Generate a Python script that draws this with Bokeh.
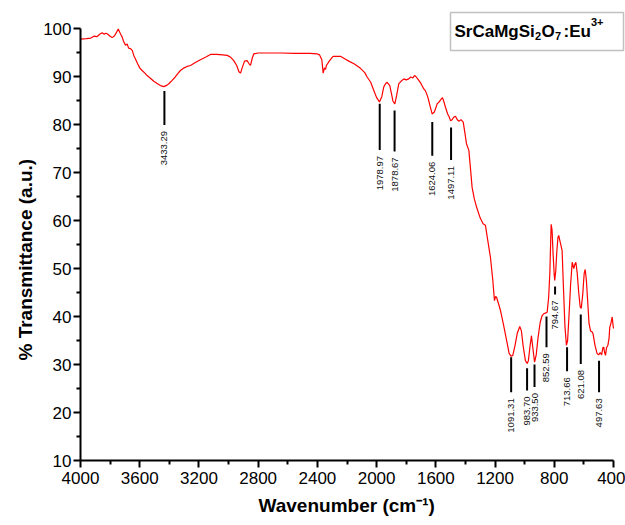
import math
from bokeh.plotting import figure
from bokeh.models import Range1d, Label, FixedTicker, BoxAnnotation, ColumnDataSource, Title
from bokeh.embed import file_html
from bokeh.resources import INLINE
from bokeh.core.properties import value

# ---------------- data ----------------
wavenumber = [
    4000, 3960, 3930, 3910, 3890, 3870, 3854, 3840, 3830, 3820, 3800, 3786, 3770, 3755, 3745,
    3735, 3725, 3718, 3710, 3696, 3685, 3675, 3662, 3650, 3640, 3625, 3613, 3600, 3584, 3565,
    3550, 3530, 3505, 3480, 3460, 3437, 3415, 3400, 3381, 3360, 3340, 3325, 3300, 3280, 3257,
    3230, 3190, 3150, 3122, 3080, 3040, 3009, 2985, 2965, 2945, 2930, 2919, 2908, 2892, 2875,
    2860, 2852, 2840, 2830, 2800, 2740, 2649, 2550, 2450, 2400, 2385, 2370, 2361, 2352, 2345,
    2339, 2320, 2300, 2291, 2244, 2210, 2188, 2150, 2109, 2080, 2064, 2040, 2019, 2000, 1981,
    1965, 1952, 1940, 1929, 1911, 1900, 1890, 1877, 1865, 1850, 1835, 1816, 1800, 1783, 1770,
    1755, 1744, 1735, 1725, 1715, 1700, 1681, 1670, 1654, 1640, 1625, 1610, 1591, 1575, 1564,
    1555, 1545, 1535, 1520, 1510, 1501, 1490, 1480, 1467, 1455, 1445, 1430, 1415, 1405, 1393,
    1377, 1365, 1355, 1340, 1325, 1300, 1281, 1265, 1249, 1231, 1215, 1204, 1196, 1190, 1175,
    1163, 1141, 1118, 1105, 1091, 1080, 1065, 1050, 1033, 1022, 1010, 995, 983, 975, 965,
    954, 945, 933, 922, 910, 895, 882, 870, 860, 848, 838, 830, 824, 821, 815,
    808, 800, 797, 790, 783, 775, 770, 760, 747, 738, 728, 718, 710, 700, 690,
    679, 668, 660, 654, 645, 635, 625, 618, 608, 598, 591, 583, 575, 565, 555,
    545, 538, 525, 511, 500, 490, 480, 472, 466, 460, 454, 447, 438, 430, 425,
    418, 409, 403, 400,
]
transmittance = [
    97.8, 97.9, 98.0, 98.4, 98.3, 98.8, 99.1, 98.8, 99.0, 98.9, 98.4, 98.1, 98.5, 99.3, 99.9,
    99.2, 98.6, 98.2, 97.4, 96.5, 96.8, 95.9, 95.8, 95.4, 94.4, 93.4, 92.6, 91.8, 91.25, 90.7,
    90.2, 89.7, 89.0, 88.5, 88.1, 87.9, 88.2, 88.6, 89.2, 89.9, 90.7, 91.25, 91.8, 92.1, 92.3,
    92.8, 93.5, 94.1, 94.6, 94.6, 94.5, 94.4, 94.0, 93.3, 92.3, 91.0, 90.7, 91.8, 93.2, 93.3,
    92.6, 92.3, 93.8, 94.7, 94.9, 94.9, 94.9, 94.8, 94.8, 94.7, 94.5, 93.5, 90.7, 91.8, 91.5,
    92.3, 93.2, 94.0, 94.2, 94.2, 93.6, 93.2, 92.6, 91.7, 90.8, 89.9, 88.8, 87.1, 85.6, 84.7,
    85.8, 87.8, 88.5, 88.8, 88.1, 86.5, 84.9, 84.3, 86.0, 88.5, 89.0, 89.5, 89.3, 89.5, 89.9,
    89.7, 90.2, 90.0, 89.6, 89.2, 88.5, 87.4, 87.0, 85.7, 84.0, 82.2, 82.6, 84.3, 84.8, 85.3,
    85.6, 84.7, 83.6, 82.2, 81.6, 80.8, 81.0, 81.5, 81.7, 81.0, 80.7, 81.0, 80.5, 78.5, 76.0,
    74.6, 70.5, 66.9, 64.5, 62.8, 60.5, 59.3, 59.0, 55.8, 52.3, 47.5, 43.3, 44.2, 44.0, 42.5,
    41.2, 38.0, 34.4, 32.3, 31.7, 31.9, 34.0, 36.5, 37.9, 37.0, 33.8, 30.8, 30.2, 30.8, 33.5,
    36.0, 33.5, 30.5, 32.0, 35.5, 38.8, 40.2, 40.6, 40.7, 40.9, 44.0, 49.0, 56.0, 59.2, 58.0,
    53.0, 48.5, 47.5, 49.5, 53.5, 56.5, 56.9, 55.5, 53.7, 46.0, 38.0, 34.0, 35.0, 40.5, 46.5,
    51.3, 50.0, 51.0, 51.3, 49.0, 45.0, 42.0, 41.7, 44.5, 49.0, 49.8, 47.5, 43.5, 38.5, 37.0,
    36.8, 36.4, 34.0, 32.3, 32.0, 32.5, 32.0, 33.5, 33.6, 32.5, 31.9, 33.5, 34.0, 35.5, 37.8,
    38.5, 39.9, 38.2, 37.5,
]

peak_labels = ["3433.29", "1978.97", "1878.67", "1624.06", "1497.11", "1091.31", "983.70",
               "933.50", "852.59", "794.67", "713.66", "621.08", "497.63"]
peak_wavenumbers = [3433.29, 1978.97, 1878.67, 1624.06, 1497.11, 1091.31, 983.70,
                    933.50, 852.59, 794.67, 713.66, 621.08, 497.63]
peak_line_top = [87.0, 84.3, 82.9, 80.5, 79.4, 31.5, 29.2, 30.0, 40.0, 46.25, 33.6, 40.4, 30.8]
peak_line_bottom = [79.9, 74.7, 74.4, 73.5, 72.6, 24.2, 24.6, 25.3, 33.6, 44.6, 28.6, 30.1, 24.2]

x_ticks = [4000, 3600, 3200, 2800, 2400, 2000, 1600, 1200, 800, 400]
y_ticks = [10, 20, 30, 40, 50, 60, 70, 80, 90, 100]

x_title = "Wavenumber (cm\u207b\u00b9)"
y_title = "% Transmittance (a.u.)"

# ---------------- layout helpers (pixel -> data) ----------------
W, H = 625, 525
LEFT, BOTTOM = 80, 65
X0, X1 = 4000, 400          # axis extent
PX_X0, PX_X1 = 80, 613      # pixel positions of 4000 / 400
PX_Y100, PX_Y10 = 28, 460   # pixel positions of 100 / 10
ux = (X0 - X1) / (PX_X1 - PX_X0)   # data per px (x)
uy = 90.0 / (PX_Y10 - PX_Y100)      # data per px (y)


def px_x(px):
    return X0 - (px - PX_X0) * ux


def px_y(py):
    return 100 - (py - PX_Y100) * uy


FONT = "Liberation Sans"

p = figure(width=W, height=H, output_backend="svg", toolbar_location=None,
           x_range=Range1d(X0, px_x(W)), y_range=Range1d(10, px_y(0)),
           min_border_left=LEFT, min_border_right=0, min_border_top=0,
           min_border_bottom=BOTTOM)
p.outline_line_color = None
p.grid.visible = False
p.background_fill_color = "white"
p.border_fill_color = "white"

for ax, ticks, standoff in ((p.xaxis, x_ticks, 4), (p.yaxis, y_ticks, 2)):
    minors = [(a + b) / 2 for a, b in zip(ticks[:-1], ticks[1:])]
    ax.ticker = FixedTicker(ticks=ticks, minor_ticks=minors)
    ax.bounds = (min(ticks), max(ticks))
    ax.axis_line_width = 2
    ax.axis_line_color = "black"
    ax.major_tick_line_width = 2
    ax.minor_tick_line_width = 2
    ax.major_tick_line_color = "black"
    ax.minor_tick_line_color = "black"
    ax.major_tick_out = 7
    ax.major_tick_in = 0
    ax.minor_tick_out = 4
    ax.minor_tick_in = 0
    ax.major_label_text_font = FONT
    ax.major_label_text_font_size = "17px"
    ax.major_label_text_color = "black"
    ax.major_label_standoff = standoff

# axis titles (side-panel titles, offset along the axis from the frame's start)
p.add_layout(Title(text=y_title, align="left", offset=100, standoff=10,
                   text_font=FONT, text_font_size="19px", text_font_style="bold",
                   text_color="black"), "left")
p.add_layout(Title(text=x_title, align="left", offset=178, standoff=13,
                   text_font=FONT, text_font_size="19px", text_font_style="bold",
                   text_color="black"), "below")

# spectrum
p.line(wavenumber, transmittance, line_color="#FF0000", line_width=1.2)

# peak markers
src = ColumnDataSource(dict(
    x=peak_wavenumbers, top=peak_line_top, bottom=peak_line_bottom,
    label=peak_labels, ly=[b - 6 * uy for b in peak_line_bottom]))
p.segment(x0="x", y0="top", x1="x", y1="bottom", source=src,
          line_color="black", line_width=2)
p.text(x="x", y="ly", text="label", source=src, angle=math.pi / 2,
       text_align="right", text_baseline="middle",
       text_font=value(FONT), text_font_size="9.5px", text_color="#111111")

# title box
p.add_layout(BoxAnnotation(left=px_x(450), right=px_x(623), top=px_y(12), bottom=px_y(50),
                           fill_color="white", fill_alpha=1.0,
                           line_color="#333333", line_width=1.5))


def piece(text, px, py, size):
    p.add_layout(Label(x=px_x(px), y=px_y(py), text=text, text_font=FONT,
                       text_font_size=size, text_font_style="bold",
                       text_color="black", text_align="left",
                       text_baseline="alphabetic"))


# "SrCaMgSi2O7:Eu3+"  (baselines compensated for the label's own offset)
piece("SrCaMgSi", 454, 31, "17px")
piece("2", 534.5, 35, "11px")
piece("O", 541, 31, "17px")
piece("7", 554.5, 35, "11px")
piece(":Eu", 563, 31, "17px")
piece("3+", 590.5, 21, "11px")

open("out.html", "w").write(file_html(p, INLINE))
